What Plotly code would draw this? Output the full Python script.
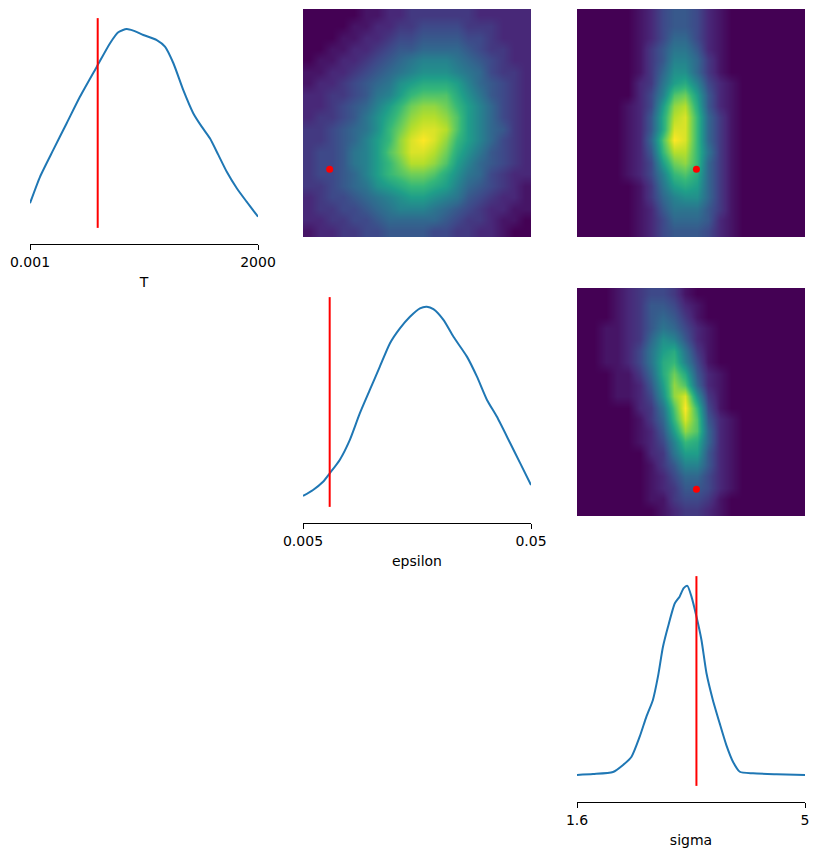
import numpy as np
import plotly.graph_objects as go

W, H = 819, 855

# ---------------- data ----------------
param_names = ["T", "epsilon", "sigma"]
tick_text = [["0.001", "2000"], ["0.005", "0.05"], ["1.6", "5"]]
# axis coordinates: log10 for T and epsilon, linear for sigma
axis_lo = [-3.0, -2.30103, 1.6]
axis_hi = [3.30103, -1.30103, 5.0]
true_vals = [-1.129, -2.184, 3.381]   # true parameter values (axis coordinates)

# marginal KDE curves (x in axis coordinates, relative density)
kde_T_x = [-3.000, -2.723, -2.357, -1.986, -1.620, -1.154, -0.788, -0.561, -0.328, -0.146,
           0.132, 0.503, 0.730, 0.963, 1.234, 1.511, 1.745, 1.972, 2.205, 2.438, 2.715, 2.986, 3.301]
kde_T_y = [0.148, 0.264, 0.382, 0.499, 0.615, 0.747, 0.850, 0.898, 0.912, 0.905,
           0.886, 0.864, 0.835, 0.762, 0.645, 0.543, 0.484, 0.433, 0.360, 0.286, 0.214, 0.155, 0.089]

kde_eps_x = [-2.301, -2.257, -2.213, -2.184, -2.140, -2.096, -2.052, -2.008, -1.964, -1.920,
             -1.876, -1.832, -1.788, -1.758, -1.729, -1.685, -1.641, -1.582, -1.538, -1.494,
             -1.451, -1.392, -1.348, -1.301]
kde_eps_y = [0.088, 0.114, 0.150, 0.187, 0.246, 0.333, 0.450, 0.553, 0.655, 0.757,
             0.823, 0.874, 0.911, 0.918, 0.907, 0.860, 0.786, 0.699, 0.611, 0.509,
             0.436, 0.319, 0.231, 0.136]

kde_sig_x = [1.600, 1.838, 2.137, 2.287, 2.413, 2.535, 2.634, 2.732, 2.807, 2.882,
             2.957, 3.059, 3.130, 3.191, 3.246, 3.307, 3.382, 3.456, 3.531, 3.626,
             3.728, 3.827, 3.926, 4.028, 4.225, 4.575, 5.000]
kde_sig_y = [0.088, 0.092, 0.101, 0.132, 0.168, 0.256, 0.343, 0.417, 0.519, 0.650,
             0.738, 0.841, 0.870, 0.907, 0.917, 0.870, 0.782, 0.680, 0.534, 0.417,
             0.314, 0.219, 0.146, 0.102, 0.095, 0.091, 0.088]

# 2D densities, levels 0-18 written in base-36 (0-9, a=10 ... i=18),
# rows listed top to bottom, 20 bins per axis
dens_eps_T = [
    "00000112233333322222",
    "00001122334444333222",
    "00011223445555443222",
    "00112234556666543322",
    "01122345678887654322",
    "11223456789998764332",
    "122345679abbba865432",
    "22334578acdddb975432",
    "2234568aceffeca86432",
    "2334579bdfggfda86432",
    "3345679ceghhgda86532",
    "334568acfhihfca86432",
    "344578adfhhgeb975432",
    "344578aceggfda865432",
    "344568acdeedb9764322",
    "3345679abccba8654321",
    "234456789aa987543221",
    "23344567888765432211",
    "22334456666654332110",
    "12233445555443322100",
]
dens_sig_T = [
    "00000124554210000000",
    "00000124554210000000",
    "00000124664210000000",
    "00000135775210000000",
    "00000135886310000000",
    "00000136996310000000",
    "00000237ab8421000000",
    "00000248dea521000000",
    "0000124afgb521000000",
    "0000125bghc631000000",
    "0000125bhhc631000000",
    "0000126dihc631000000",
    "0000125cggc731000000",
    "0000124aefc631000000",
    "00001248cdb631000000",
    "00000137aba631000000",
    "00000136899631000000",
    "00000125777531000000",
    "00000124666521000000",
    "00000124555421000000",
]
dens_sig_eps = [
    "00012344310000000000",
    "00012355421000000000",
    "00012356531000000000",
    "00112357642100000000",
    "00112369852100000000",
    "0011247ab73100000000",
    "0011247bc84100000000",
    "0001136beb5210000000",
    "0001125afd6210000000",
    "00011249fh9310000000",
    "00000237dic410000000",
    "00000136chd521000000",
    "00000125afd621000000",
    "000001248cb621000000",
    "000000237aa521000000",
    "00000013588521000000",
    "00000012466421000000",
    "00000012355421000000",
    "00000011344310000000",
    "00000001233210000000",
]
DENS_MAX = 18

# ---------------- layout geometry (pixels) ----------------
cols_px = [(30, 258), (303, 531), (577, 805)]
rows_px = [(9, 237), (288, 516), (567, 795)]
OFF = 7  # spine offset below diagonal panels


def xdom(a, b):
    return [a / W, b / W]


def ydom(a, b):
    return [1 - b / H, 1 - a / H]


fig = go.Figure()
layout = {}
font = dict(family="DejaVu Sans", size=14, color="black")

kdes = [(kde_T_x, kde_T_y), (kde_eps_x, kde_eps_y), (kde_sig_x, kde_sig_y)]

# diagonal panels
for i in range(3):
    n = i + 1
    xa, ya = f"x{n}", f"y{n}"
    kx, ky = kdes[i]
    fig.add_trace(go.Scatter(x=kx, y=ky, mode="lines", xaxis=xa, yaxis=ya,
                             line=dict(color="#1f77b4", width=2, shape="spline", smoothing=0.6),
                             hoverinfo="skip", showlegend=False))
    fig.add_trace(go.Scatter(x=[true_vals[i], true_vals[i]], y=[0.04, 0.96], mode="lines",
                             xaxis=xa, yaxis=ya, line=dict(color="red", width=2),
                             hoverinfo="skip", showlegend=False))
    c0, c1 = cols_px[i]
    r0, r1 = rows_px[i]
    layout[f"xaxis{n}"] = dict(domain=xdom(c0, c1), range=[axis_lo[i], axis_hi[i]],
                               anchor=ya, showgrid=False, zeroline=False, automargin=False,
                               showline=True, linecolor="black", linewidth=1,
                               ticks="outside", ticklen=5, tickwidth=1, tickcolor="black",
                               tickvals=[axis_lo[i], axis_hi[i]], ticktext=tick_text[i],
                               tickfont=font,
                               title=dict(text=param_names[i], font=font, standoff=8))
    layout[f"yaxis{n}"] = dict(domain=ydom(r0, r1 + OFF), range=[-OFF / (r1 - r0), 1],
                               anchor=xa, visible=False, automargin=False)

# off-diagonal heatmaps: (row param i, col param j)
heat_panels = [(0, 1, dens_eps_T), (0, 2, dens_sig_T), (1, 2, dens_sig_eps)]
for k, (i, j, rows) in enumerate(heat_panels):
    n = k + 4
    xa, ya = f"x{n}", f"y{n}"
    z = np.array([[int(ch, 36) for ch in r] for r in rows], dtype=float)[::-1]
    xe = np.linspace(axis_lo[j], axis_hi[j], z.shape[1] + 1)
    ye = np.linspace(axis_lo[i], axis_hi[i], z.shape[0] + 1)
    xc = 0.5 * (xe[:-1] + xe[1:])
    yc = 0.5 * (ye[:-1] + ye[1:])
    fig.add_trace(go.Heatmap(z=z, x=xc, y=yc, colorscale="Viridis", zmin=0, zmax=DENS_MAX,
                             zsmooth="best", showscale=False, xaxis=xa, yaxis=ya,
                             hoverinfo="skip"))
    fig.add_trace(go.Scatter(x=[true_vals[j]], y=[true_vals[i]], mode="markers",
                             marker=dict(color="red", size=7), xaxis=xa, yaxis=ya,
                             hoverinfo="skip", showlegend=False))
    c0, c1 = cols_px[j]
    r0, r1 = rows_px[i]
    layout[f"xaxis{n}"] = dict(domain=xdom(c0, c1), range=[axis_lo[j], axis_hi[j]],
                               anchor=ya, visible=False, automargin=False)
    layout[f"yaxis{n}"] = dict(domain=ydom(r0, r1), range=[axis_lo[i], axis_hi[i]],
                               anchor=xa, visible=False, automargin=False)

fig.update_layout(width=W, height=H, margin=dict(l=0, r=0, t=0, b=0, autoexpand=False),
                  paper_bgcolor="white", plot_bgcolor="white", showlegend=False,
                  font=font, **layout)

fig.write_html("out.html")
